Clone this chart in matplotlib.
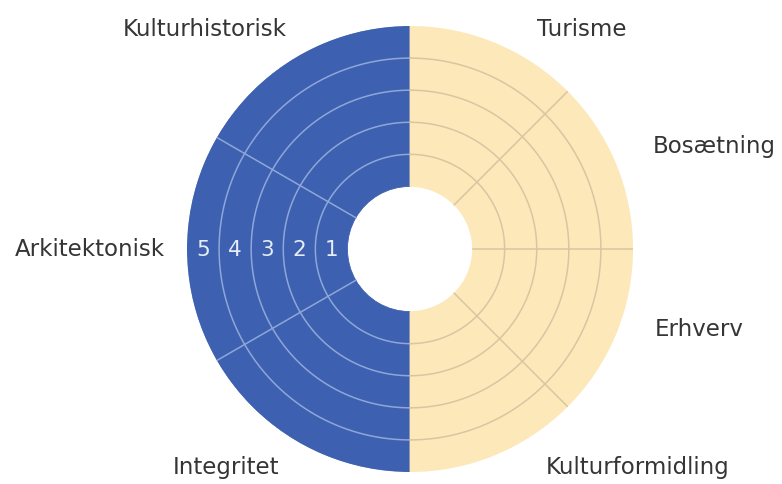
import numpy as np
import matplotlib
matplotlib.use('Agg')
import matplotlib.pyplot as plt

# Categories (left half is blue, right half is cream)
left_categories = ['Kulturhistorisk', 'Arkitektonisk', 'Integritet']
right_categories = ['Turisme', 'Bosætning', 'Erhverv', 'Kulturformidling']
levels = [1, 2, 3, 4, 5]

# Label positions in pixels (x, y from top) and alignment
label_pos = {
    'Kulturhistorisk': (205, 30, 'center'),
    'Arkitektonisk': (15, 250, 'left'),
    'Integritet': (226, 468, 'center'),
    'Turisme': (582, 30, 'center'),
    'Bosætning': (653, 147, 'left'),
    'Erhverv': (655, 330, 'left'),
    'Kulturformidling': (638, 468, 'center'),
}

blue = '#3d61b0'
cream = '#fde8b9'
blue_line = '#8ea6d9'
cream_line = '#d8c6a2'
text_color = '#353535'

W, H = 782, 485
cx, cy, R = 410, 250, 223
hole = 1.95
outer = hole + len(levels)

fig = plt.figure(figsize=(W / 100, H / 100), dpi=100)
ax = fig.add_axes([(cx - R) / W, (H - cy - R) / H, 2 * R / W, 2 * R / H],
                  projection='polar')
ax.set_ylim(0, outer)
ax.grid(False)
ax.set_xticks([])
ax.set_yticks([])
ax.spines['polar'].set_visible(False)
ax.patch.set_alpha(0)

# Sectors
n_left = len(left_categories)
left_w = np.pi / n_left
left_edges = np.pi / 2 + left_w * np.arange(n_left + 1)
for i in range(n_left):
    ax.bar(left_edges[i] + left_w / 2, outer - hole, width=left_w, bottom=hole,
           color=blue, edgecolor=blue, linewidth=0.6)

n_right = len(right_categories)
right_w = np.pi / n_right
right_edges = np.pi / 2 - right_w * np.arange(n_right + 1)
for i in range(n_right):
    ax.bar(right_edges[i] - right_w / 2, outer - hole, width=right_w, bottom=hole,
           color=cream, edgecolor=cream, linewidth=0.6)

# Ring lines
th_left = np.linspace(np.pi / 2, 3 * np.pi / 2, 200)
th_right = np.linspace(-np.pi / 2, np.pi / 2, 200)
for lv in levels[:-1]:
    r = hole + lv
    ax.plot(th_left, np.full_like(th_left, r), color=blue_line, lw=1.1)
    ax.plot(th_right, np.full_like(th_right, r), color=cream_line, lw=1.1)

# Radial divider lines
for e in left_edges[1:-1]:
    ax.plot([e, e], [hole, outer], color=blue_line, lw=1.1)
for e in right_edges[1:-1]:
    ax.plot([e, e], [hole, outer], color=cream_line, lw=1.1)

# Level numbers
for lv in levels:
    ax.text(np.pi, hole + lv - 0.5, str(lv), color='#e6ecf8', fontsize=15.5,
            ha='center', va='center')

# Category labels
for name, (x, y, ha) in label_pos.items():
    fig.text(x / W, 1 - y / H, name, fontsize=16.5, color=text_color,
             ha=ha, va='center')

fig.savefig('out.png', dpi=100, facecolor='white')
